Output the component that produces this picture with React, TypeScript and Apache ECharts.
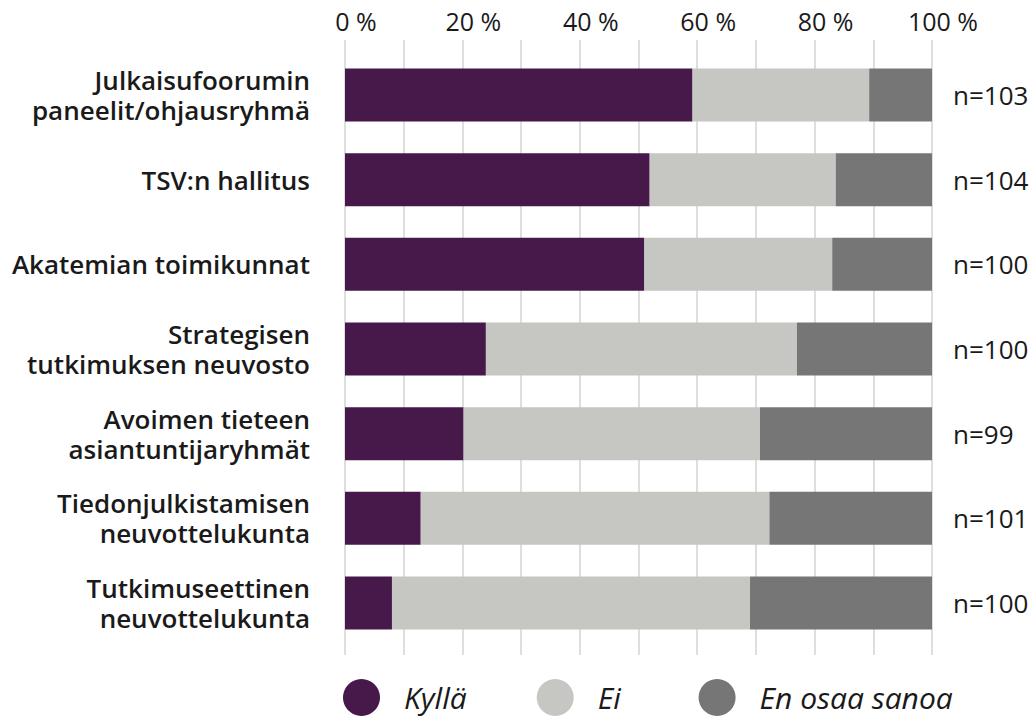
import React, { useEffect, useRef } from "react";
import * as echarts from "echarts";

const categories = [
  "Julkaisufoorumin\npaneelit/ohjausryhmä",
  "TSV:n hallitus",
  "Akatemian toimikunnat",
  "Strategisen\ntutkimuksen neuvosto",
  "Avoimen tieteen\nasiantuntijaryhmät",
  "Tiedonjulkistamisen\nneuvottelukunta",
  "Tutkimuseettinen\nneuvottelukunta",
];
const nLabels = ["n=103", "n=104", "n=100", "n=100", "n=99", "n=101", "n=100"];
const kylla = [59.2, 51.9, 51.0, 24.0, 20.2, 12.9, 8.0];
const ei = [30.1, 31.7, 32.0, 53.0, 50.5, 59.4, 61.0];
const eos = [10.7, 16.4, 17.0, 23.0, 29.3, 27.7, 31.0];
const seriesNames = ["Kyllä", "Ei", "En osaa sanoa"];
const colors = ["#47184a", "#c6c7c3", "#767676"];
const tickValues = [0, 20, 40, 60, 80, 100];

const FONT = "'Open Sans', 'Noto Sans', sans-serif";

export default function App() {
  const ref = useRef<HTMLDivElement>(null);
  useEffect(() => {
    if (!ref.current) return;
    const chart = echarts.init(ref.current, undefined, { renderer: "svg" });
    const data = [kylla, ei, eos];
    chart.setOption({
      animation: false,
      backgroundColor: "#ffffff",
      textStyle: { fontFamily: FONT },
      grid: [
        { left: 345, right: 101, top: 40, bottom: 63 },
        { left: 345, right: 101, top: 52.7, bottom: 72.7 },
      ],
      legend: {
        data: seriesNames,
        left: 338,
        top: 674,
        icon: "circle",
        itemWidth: 37,
        itemHeight: 37,
        itemGap: 70,
        formatter: (name: string) => (name === "Ei" ? "Ei " : name),
        textStyle: {
          fontFamily: FONT,
          fontSize: 30,
          fontStyle: "italic",
          color: "#1a1a1a",
          padding: [0, 0, 0, 19],
        },
      },
      xAxis: [
        {
          gridIndex: 0,
          type: "value",
          position: "top",
          min: 0,
          max: 100,
          interval: 10,
          axisLine: { show: false },
          axisTick: { show: false },
          axisLabel: {
            margin: 7,
            fontSize: 25,
            color: "#1a1a1a",
            fontFamily: FONT,
            padding: [0, 0, 0, 22],
            formatter: (v: number) => (tickValues.indexOf(v) >= 0 ? `${v} %` : ""),
          },
          splitLine: { show: true, lineStyle: { color: "#dedede", width: 2 } },
        },
        {
          gridIndex: 1,
          type: "value",
          min: 0,
          max: 100,
          show: false,
          splitLine: { show: false },
        },
      ],
      yAxis: [
        {
          gridIndex: 0,
          type: "value",
          show: false,
          splitLine: { show: false },
        },
        {
          gridIndex: 1,
          type: "category",
          data: categories,
          inverse: true,
          axisLine: { show: false },
          axisTick: { show: false },
          axisLabel: {
            margin: 35,
            fontSize: 26,
            fontWeight: 600,
            color: "#1a1a1a",
            lineHeight: 30,
            align: "right",
            fontFamily: FONT,
          },
        },
        {
          gridIndex: 1,
          type: "category",
          data: nLabels,
          inverse: true,
          position: "right",
          axisLine: { show: false },
          axisTick: { show: false },
          axisLabel: {
            margin: 21,
            fontSize: 26,
            color: "#1a1a1a",
            fontFamily: FONT,
          },
        },
      ],
      series: seriesNames.map((name, i) => ({
        name,
        type: "bar",
        stack: "total",
        xAxisIndex: 1,
        yAxisIndex: 1,
        barWidth: 53,
        itemStyle: { color: colors[i] },
        data: data[i],
      })),
    });
    return () => chart.dispose();
  }, []);
  return (
    <div
      ref={ref}
      style={{ position: "fixed", left: 0, top: 0, width: 1033, height: 718 }}
    />
  );
}
